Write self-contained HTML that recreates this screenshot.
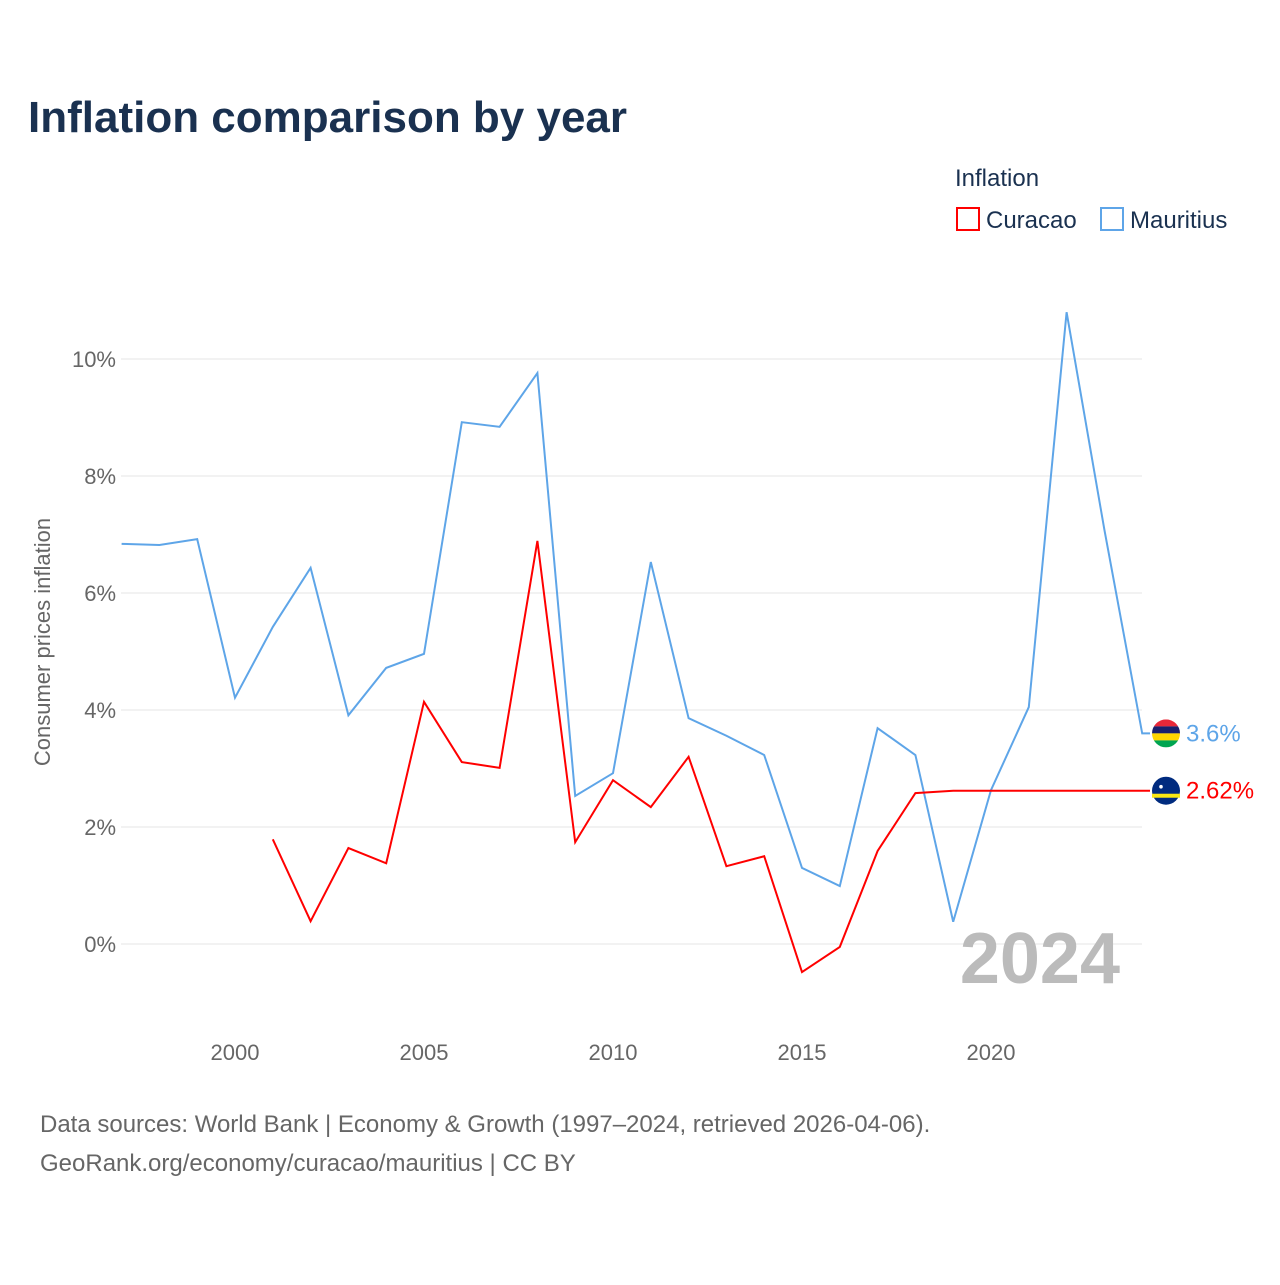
<!DOCTYPE html>
<html><head><meta charset="utf-8"><style>
body{margin:0;background:#fff;font-family:"Liberation Sans",sans-serif;}
</style></head><body>
<svg width="1280" height="1280" xmlns="http://www.w3.org/2000/svg">
<text x="28" y="132" font-size="44" font-weight="bold" fill="#1a3150">Inflation comparison by year</text>
<text x="955" y="186" font-size="24" fill="#1a3150">Inflation</text>
<g><rect x="957" y="208" width="22" height="22" fill="none" stroke="#ff0000" stroke-width="2"/><text x="986" y="228" font-size="24" fill="#1a3150">Curacao</text></g>
<g><rect x="1101" y="208" width="22" height="22" fill="none" stroke="#5ea5e8" stroke-width="2"/><text x="1130" y="228" font-size="24" fill="#1a3150">Mauritius</text></g>
<g id="grid"></g>
<text transform="translate(50,642) rotate(-90)" text-anchor="middle" font-size="22" fill="#666">Consumer prices inflation</text>
<text x="1120" y="983" text-anchor="end" font-size="72" font-weight="bold" fill="#bbb">2024</text>
<g id="series"></g>
<text x="40" y="1132" font-size="24" fill="#666">Data sources: World Bank | Economy &amp; Growth (1997–2024, retrieved 2026-04-06).</text>
<text x="40" y="1171" font-size="24" fill="#666">GeoRank.org/economy/curacao/mauritius | CC BY</text>
</svg>
<script>
const years=[1997,1998,1999,2000,2001,2002,2003,2004,2005,2006,2007,2008,2009,2010,2011,2012,2013,2014,2015,2016,2017,2018,2019,2020,2021,2022,2023,2024];
const mauritius=[6.84,6.82,6.92,4.21,5.42,6.43,3.91,4.72,4.96,8.92,8.84,9.76,2.53,2.92,6.53,3.86,3.56,3.23,1.30,0.99,3.69,3.23,0.38,2.63,4.05,10.8,7.08,3.6];
const curacao=[null,null,null,null,1.79,0.39,1.64,1.38,4.14,3.11,3.01,6.89,1.74,2.80,2.34,3.20,1.33,1.50,-0.48,-0.05,1.59,2.58,2.62,2.62,2.62,2.62,2.62,2.62];
const yTicks=[0,2,4,6,8,10];
const xTicks=[2000,2005,2010,2015,2020];
const NS="http://www.w3.org/2000/svg";
const X=y=>121.6+(y-1997)*37.8;
const Y=v=>944-v*58.5;
function mk(t,a,p){const e=document.createElementNS(NS,t);for(const k in a)e.setAttribute(k,a[k]);p.appendChild(e);return e;}
const g=document.getElementById('grid');
yTicks.forEach(v=>{
 const l=mk('line',{x1:121,x2:1142,y1:Y(v),y2:Y(v),stroke:'#e6e6e6'},g);
 
 
 const t=mk('text',{x:116,y:Y(v)+8,'text-anchor':'end','font-size':22,fill:'#666'},g);
 t.textContent=v+'%';
 
 
});
xTicks.forEach(v=>{
 const t=mk('text',{x:X(v),y:1060,'text-anchor':'middle','font-size':22,fill:'#666'},g);
 t.textContent=v;
 
 
});
const s=document.getElementById('series');
function line(vals,col,name){
 let d='';vals.forEach((v,i)=>{if(v==null)return;d+=(d?'L':'M')+X(years[i])+','+Y(v);});
 const last=vals[vals.length-1];
 d+='L1150,'+Y(last);
 const p=mk('path',{d:d,fill:'none',stroke:col,'stroke-width':2},s);
 
 
 const t=mk('text',{x:1186,y:Y(last)+8,'font-size':24,fill:col},s);
 t.textContent=(Math.round(last*100)/100)+'%';
 
 
 return Y(last);
}
const ym=line(mauritius,'#5ea5e8','mauritius');
const yc=line(curacao,'#ff0000','curacao');
// flags
const fm=mk('g',{},s);


mk('clipPath',{id:'cm'},fm).appendChild(document.createElementNS(NS,'circle'));
const cm=fm.querySelector('circle');cm.setAttribute('cx',1166);cm.setAttribute('cy',ym);cm.setAttribute('r',14);
['#ea2839','#1a206d','#ffd500','#00a551'].forEach((c,i)=>mk('rect',{x:1152,y:ym-14+i*7,width:28,height:7,fill:c,'clip-path':'url(#cm)'},fm));
const fc=mk('g',{},s);


mk('circle',{cx:1166,cy:yc,r:14,fill:'#002b7f'},fc);
mk('rect',{x:1152,y:yc+3,width:28,height:4,fill:'#f9e814'},fc);
mk('circle',{cx:1161,cy:yc-4,r:1.8,fill:'#fff'},fc);
</script>
</body></html>
